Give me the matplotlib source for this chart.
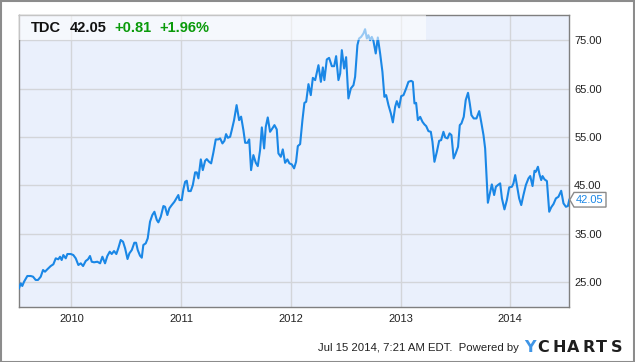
import matplotlib
matplotlib.use("Agg")
import matplotlib.pyplot as plt
import matplotlib.transforms as mtransforms
from matplotlib.patches import Polygon, Rectangle

# ---------------- data ----------------
dates = [
    2009.523, 2009.539, 2009.553, 2009.569, 2009.599, 2009.630, 2009.651, 2009.675, 2009.696, 2009.721,
    2009.742, 2009.760, 2009.781, 2009.812, 2009.836, 2009.858, 2009.881, 2009.897, 2009.912, 2009.927,
    2009.949, 2009.964, 2009.995, 2010.018, 2010.040, 2010.064, 2010.086, 2010.107, 2010.131, 2010.152,
    2010.170, 2010.186, 2010.207, 2010.237, 2010.262, 2010.283, 2010.307, 2010.328, 2010.350, 2010.368,
    2010.389, 2010.410, 2010.428, 2010.450, 2010.471, 2010.490, 2010.512, 2010.529, 2010.551, 2010.574,
    2010.590, 2010.605, 2010.626, 2010.642, 2010.656, 2010.678, 2010.696, 2010.717, 2010.738, 2010.757,
    2010.779, 2010.793, 2010.815, 2010.839, 2010.854, 2010.875, 2010.893, 2010.915, 2010.939, 2010.961,
    2010.975, 2010.985, 2011.006, 2011.021, 2011.037, 2011.052, 2011.067, 2011.088, 2011.107, 2011.128,
    2011.143, 2011.158, 2011.180, 2011.198, 2011.219, 2011.234, 2011.255, 2011.274, 2011.294, 2011.316,
    2011.340, 2011.356, 2011.377, 2011.395, 2011.410, 2011.426, 2011.447, 2011.462, 2011.483, 2011.506,
    2011.529, 2011.547, 2011.568, 2011.584, 2011.605, 2011.621, 2011.638, 2011.659, 2011.681, 2011.699,
    2011.720, 2011.736, 2011.757, 2011.772, 2011.790, 2011.811, 2011.832, 2011.851, 2011.872, 2011.887,
    2011.909, 2011.927, 2011.948, 2011.969, 2011.987, 2012.009, 2012.030, 2012.048, 2012.064, 2012.085,
    2012.106, 2012.124, 2012.140, 2012.161, 2012.182, 2012.201, 2012.222, 2012.252, 2012.274, 2012.292,
    2012.306, 2012.328, 2012.349, 2012.374, 2012.395, 2012.413, 2012.434, 2012.450, 2012.465, 2012.486,
    2012.504, 2012.525, 2012.547, 2012.571, 2012.586, 2012.607, 2012.622, 2012.641, 2012.662, 2012.677,
    2012.693, 2012.707, 2012.723, 2012.738, 2012.753, 2012.774, 2012.793, 2012.814, 2012.835, 2012.853,
    2012.869, 2012.890, 2012.912, 2012.930, 2012.951, 2012.966, 2012.987, 2013.006, 2013.027, 2013.051,
    2013.072, 2013.097, 2013.112, 2013.127, 2013.142, 2013.158, 2013.179, 2013.200, 2013.218, 2013.234,
    2013.254, 2013.276, 2013.291, 2013.309, 2013.331, 2013.352, 2013.370, 2013.391, 2013.407, 2013.428,
    2013.447, 2013.464, 2013.484, 2013.503, 2013.524, 2013.540, 2013.555, 2013.576, 2013.594, 2013.615,
    2013.631, 2013.646, 2013.667, 2013.692, 2013.717, 2013.735, 2013.756, 2013.771, 2013.796, 2013.817,
    2013.832, 2013.853, 2013.869, 2013.887, 2013.908, 2013.924, 2013.947, 2013.969, 2013.990, 2014.015,
    2014.029, 2014.045, 2014.060, 2014.081, 2014.100, 2014.120, 2014.142, 2014.166, 2014.182, 2014.203,
    2014.221, 2014.233, 2014.252, 2014.266, 2014.282, 2014.294, 2014.312, 2014.334, 2014.355, 2014.373,
    2014.394, 2014.416, 2014.439, 2014.464, 2014.485, 2014.507, 2014.525, 2014.538,
]
prices = [
    23.76, 24.79, 24.24, 25.12, 26.30, 26.30, 26.16, 25.48, 25.48, 26.16,
    27.54, 27.19, 27.68, 28.36, 28.72, 29.95, 29.75, 30.28, 29.60, 30.63,
    29.95, 30.84, 30.84, 30.63, 29.95, 28.57, 28.92, 28.36, 29.40, 29.75,
    30.43, 29.25, 29.13, 29.25, 28.92, 30.28, 28.92, 30.43, 31.32, 30.84,
    31.46, 30.84, 32.02, 33.73, 33.38, 32.02, 29.81, 30.98, 31.67, 33.17,
    33.17, 31.67, 30.49, 30.08, 32.70, 33.05, 34.08, 37.51, 38.89, 39.57,
    37.86, 37.38, 38.54, 40.75, 40.60, 38.89, 40.27, 40.95, 41.63, 42.46,
    43.02, 41.98, 41.98, 44.19, 45.76, 45.97, 43.84, 43.84, 45.08, 47.70,
    47.70, 46.46, 50.38, 48.17, 50.09, 50.44, 49.89, 49.56, 51.74, 54.51,
    54.51, 54.72, 53.68, 54.22, 55.60, 54.84, 55.05, 56.43, 58.49, 61.59,
    58.49, 59.21, 56.43, 53.81, 53.81, 54.51, 48.17, 51.27, 49.68, 49.00,
    52.30, 56.99, 52.65, 57.11, 59.05, 56.08, 56.78, 57.46, 56.57, 51.62,
    50.92, 52.45, 49.68, 50.38, 49.56, 49.35, 48.53, 49.89, 53.13, 53.54,
    58.49, 62.06, 62.27, 65.92, 63.65, 67.22, 66.75, 69.84, 66.40, 69.37,
    66.75, 71.02, 71.35, 69.63, 69.63, 71.70, 66.75, 68.13, 72.94, 69.16,
    71.49, 62.97, 65.03, 65.71, 67.43, 73.97, 75.35, 75.68, 76.38, 77.27,
    75.35, 76.03, 75.00, 75.68, 74.86, 72.26, 75.56, 72.26, 68.46, 63.30,
    63.65, 61.59, 59.87, 58.02, 61.24, 62.41, 61.11, 63.44, 63.65, 65.03,
    66.40, 66.60, 66.40, 61.94, 62.06, 58.49, 59.17, 58.14, 57.60, 57.25,
    56.22, 56.08, 54.01, 49.89, 51.95, 54.22, 54.36, 56.08, 54.92, 54.72,
    55.75, 55.40, 50.59, 51.62, 52.98, 57.46, 57.81, 59.17, 62.62, 64.13,
    61.94, 59.52, 58.84, 58.84, 60.35, 58.14, 55.40, 52.65, 41.43, 43.70,
    45.22, 43.02, 44.73, 45.08, 45.43, 42.33, 40.06, 41.98, 44.60, 44.73,
    45.43, 47.14, 45.08, 42.33, 40.95, 43.02, 45.08, 46.46, 46.94, 44.87,
    48.03, 47.82, 48.86, 47.35, 46.11, 46.94, 46.26, 45.90, 39.57, 40.48,
    41.16, 42.33, 42.66, 43.90, 41.30, 40.60, 40.75, 42.05,
]
x_ticks = [2010, 2011, 2012, 2013, 2014]
x_tick_labels = ["2010", "2011", "2012", "2013", "2014"]
y_ticks = [25, 35, 45, 55, 65, 75]
y_tick_labels = ["25.00", "35.00", "45.00", "55.00", "65.00", "75.00"]
ticker = "TDC"
last_price = "42.05"
change = "+0.81"
change_pct = "+1.96%"
footer = "Jul 15 2014, 7:21 AM EDT.  Powered by"

# ---------------- style ----------------
LINE = "#1a87e6"
BG = "#EAF0FC"
GRID = "#D3D5D9"
SPINE = "#7f7f7f"
GREEN = "#0a9a0a"
FONT = "Liberation Sans"

fig = plt.figure(figsize=(6.35, 3.62), dpi=100)
fig.patch.set_facecolor("white")
ax = fig.add_axes([19 / 635, 1 - 307 / 362, 550.3 / 635, 292 / 362])
ax.set_facecolor(BG)

ax.plot(dates, prices, color=LINE, lw=1.5, zorder=3, solid_joinstyle="round")

ax.set_xlim(2009.523, 2014.538)
ax.set_ylim(19.9, 80.2)
ax.set_xticks(x_ticks)
ax.set_xticklabels(x_tick_labels, fontfamily=FONT, fontsize=8, color="#222222")
ax.set_yticks(y_ticks)
ax.set_yticklabels(y_tick_labels, fontfamily=FONT, fontsize=8, color="#222222")
ax.yaxis.tick_right()
ax.tick_params(axis="x", length=0, pad=5)
ax.tick_params(axis="y", length=0, pad=3.5)
ax.grid(True, color=GRID, lw=1, zorder=1)
ax.set_axisbelow(True)
for s in ax.spines.values():
    s.set_color(SPINE)
    s.set_linewidth(1)

# header band
ax.add_patch(Rectangle((0, 1 - 25 / 292), 407 / 550.3, 25 / 292, transform=ax.transAxes,
                       facecolor="white", alpha=0.55, edgecolor="none", zorder=4))
hy = 1 - 13 / 292
ax.text(12 / 550.3, hy, ticker, transform=ax.transAxes, fontfamily=FONT, fontweight="bold",
        fontsize=10.5, color="#111111", va="center", ha="left", zorder=5)
ax.text(51 / 550.3, hy, last_price, transform=ax.transAxes, fontfamily=FONT, fontweight="bold",
        fontsize=10.5, color="#111111", va="center", ha="left", zorder=5)
ax.text(95 / 550.3, hy, change, transform=ax.transAxes, fontfamily=FONT, fontweight="bold",
        fontsize=10.5, color=GREEN, va="center", ha="left", zorder=5)
ax.text(140 / 550.3, hy, change_pct, transform=ax.transAxes, fontfamily=FONT, fontweight="bold",
        fontsize=10.5, color=GREEN, va="center", ha="left", zorder=5)

# last-price flag
anchor = fig.dpi_scale_trans + mtransforms.ScaledTranslation(dates[-1], prices[-1], ax.transData)
flag = Polygon([(0.005, 0.0), (0.047, 0.073), (0.367, 0.073), (0.367, -0.073), (0.047, -0.073)],
               closed=True, transform=anchor, facecolor="white", edgecolor="#8a8a8a",
               lw=1, clip_on=False, zorder=6)
ax.add_patch(flag)
ax.text(0.207, 0.0, last_price, transform=anchor, fontfamily=FONT, fontsize=8, color=LINE,
        ha="center", va="center", clip_on=False, zorder=7)

# outer border
fig.add_artist(Rectangle((0.5 / 635, 0.5 / 362), 633.5 / 635, 360.5 / 362, transform=fig.transFigure,
                         facecolor="none", edgecolor="#8c8c8c", lw=1.5))

# footer
fig.text(519 / 635, 1 - 348 / 362, footer, fontfamily=FONT, fontsize=8.2, color="#222222",
         ha="right", va="center")
logo_letters = ["Y", "C", "H", "A", "R", "T", "S"]
logo_x = [529.5, 543.5, 559, 573.5, 588.5, 601.5, 617]
logo_colors = ["#3f95e6"] + ["#1e1e1e"] * 6
for ch, lx, lc in zip(logo_letters, logo_x, logo_colors):
    fig.text(lx / 635, 1 - 347.5 / 362, ch, fontfamily="DejaVu Sans", fontweight="heavy",
             fontsize=11.5, color=lc, ha="center", va="center")

fig.savefig("out.png", dpi=100)
